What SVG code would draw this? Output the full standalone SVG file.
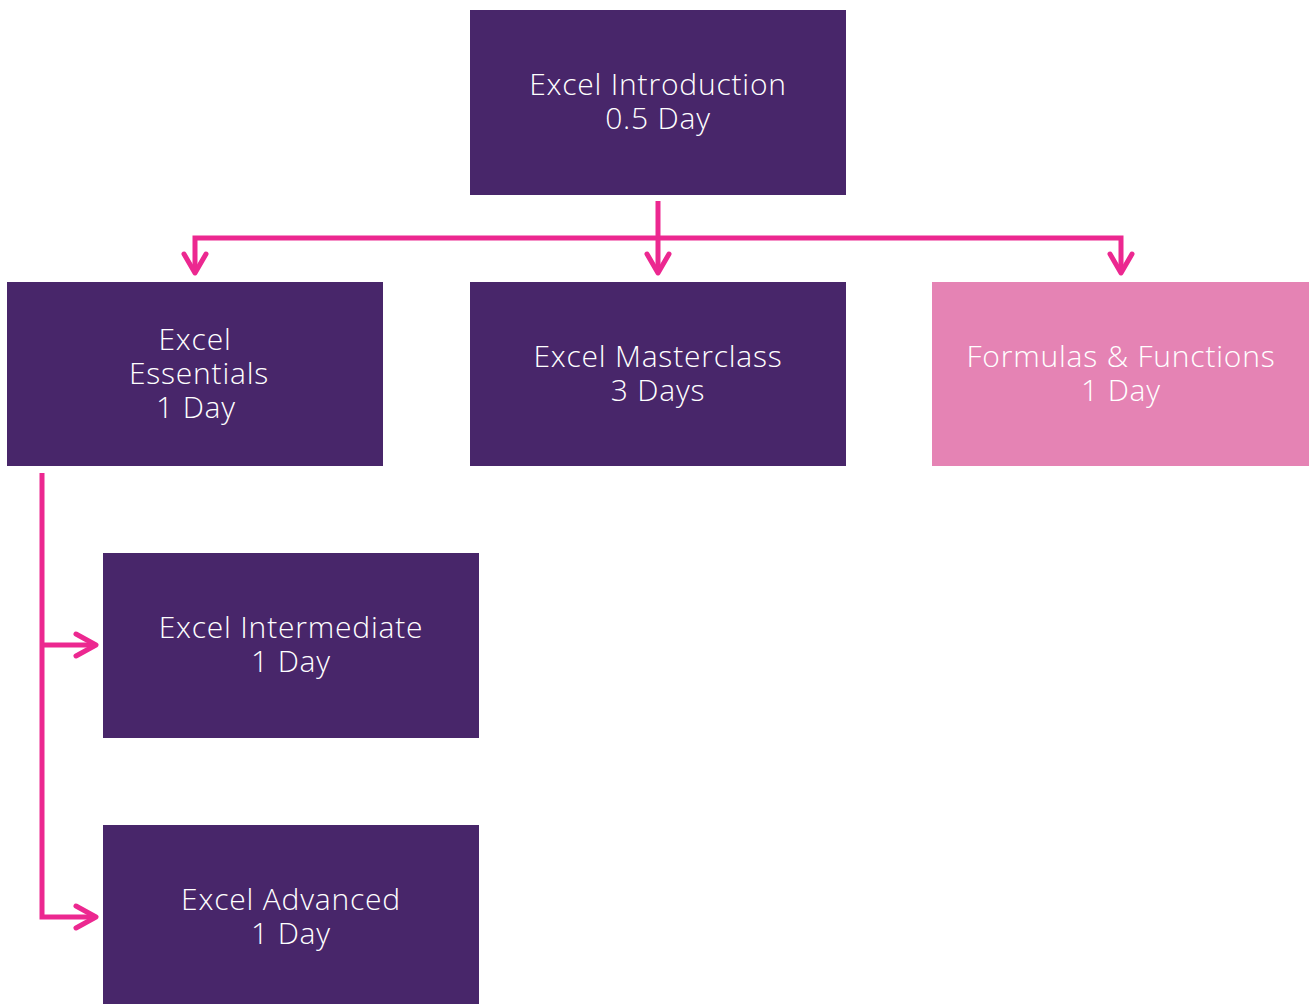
<svg xmlns="http://www.w3.org/2000/svg" width="1311" height="1004" viewBox="0 0 1311 1004">
<style>
.box{fill:#48266a}
.pink{fill:#e583b4}
text{font-family:"Open Sans","Noto Sans",sans-serif;font-weight:300;font-size:30px;letter-spacing:0.8px;fill:#ffffff;text-anchor:middle}
.conn{fill:none;stroke:#ec2890;stroke-width:5}
.head{fill:none;stroke:#ec2890;stroke-width:5;stroke-linecap:round;stroke-linejoin:round}
</style>
<rect width="1311" height="1004" fill="#ffffff"/>
<g id="connectors">
<path class="conn" d="M658,201 V272"/>
<path class="conn" d="M195,272 V238 H1121 V272"/>
<path class="conn" d="M42,473 V917 H94 M42,645 H94"/>
<path class="head" d="M184,254 L195,273 L206,254"/>
<path class="head" d="M647,254 L658,273 L669,254"/>
<path class="head" d="M1110,254 L1121,273 L1132,254"/>
<path class="head" d="M76,634 L96,645 L76,656"/>
<path class="head" d="M76,906 L96,917 L76,928"/>
</g>
<g id="intro">
<rect class="box" x="470" y="10" width="376" height="185"/>
<text><tspan x="658" y="95">Excel Introduction</tspan><tspan x="658" y="129">0.5 Day</tspan></text>
</g>
<g id="essentials">
<rect class="box" x="7" y="282" width="376" height="184"/>
<text><tspan x="195" y="350">Excel</tspan><tspan x="199" y="384">Essentials</tspan><tspan x="196" y="418">1 Day</tspan></text>
</g>
<g id="masterclass">
<rect class="box" x="470" y="282" width="376" height="184"/>
<text><tspan x="658" y="367">Excel Masterclass</tspan><tspan x="658" y="401">3 Days</tspan></text>
</g>
<g id="formulas">
<rect class="pink" x="932" y="282" width="377" height="184"/>
<text><tspan x="1121" y="367">Formulas &amp; Functions</tspan><tspan x="1121" y="401">1 Day</tspan></text>
</g>
<g id="intermediate">
<rect class="box" x="103" y="553" width="376" height="185"/>
<text><tspan x="291" y="638">Excel Intermediate</tspan><tspan x="291" y="672">1 Day</tspan></text>
</g>
<g id="advanced">
<rect class="box" x="103" y="825" width="376" height="179"/>
<text><tspan x="291" y="910">Excel Advanced</tspan><tspan x="291" y="944">1 Day</tspan></text>
</g>
</svg>
